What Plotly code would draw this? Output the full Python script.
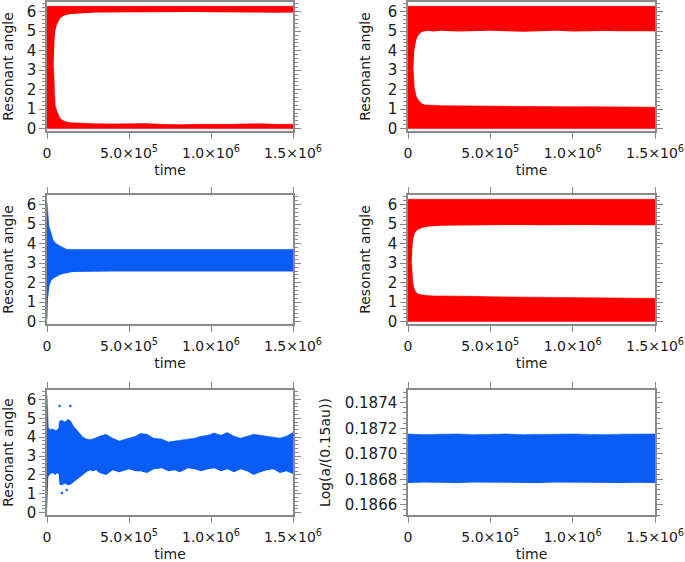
import plotly.graph_objects as go
from plotly.subplots import make_subplots

# ---------------- data ----------------
ANGLE_MIN = 0.0
ANGLE_MAX = 6.28

# Panel 1 (red): two bands, gap between gap_low1 and gap_high1
t1 = [0, 4.0e4, 4.6e4, 5.0e4, 6.0e4, 7.0e4, 8.0e4, 1.0e5, 1.2e5, 1.5e5, 2.0e5, 2.5e5, 3.0e5,
      4.0e5, 5.0e5, 6.0e5, 7.0e5, 8.0e5, 9.0e5, 1.0e6, 1.1e6, 1.2e6, 1.3e6, 1.4e6, 1.5e6]
gap_low1 = [3.2, 3.2, 1.8, 1.2, 0.9, 0.65, 0.52, 0.40, 0.34, 0.30, 0.28, 0.26, 0.25,
            0.24, 0.25, 0.26, 0.22, 0.20, 0.22, 0.21, 0.22, 0.24, 0.25, 0.22, 0.22]
gap_high1 = [3.2, 3.2, 4.6, 5.0, 5.33, 5.5, 5.67, 5.78, 5.84, 5.88, 5.92, 5.94, 5.96,
             5.97, 5.98, 5.99, 5.98, 6.0, 5.99, 5.97, 5.96, 5.95, 5.96, 5.95, 5.96]

# Panel 2 (red)
t2 = [0, 3.2e4, 3.8e4, 4.5e4, 5.0e4, 6.0e4, 7.0e4, 8.0e4, 1.0e5, 1.2e5, 1.5e5, 2.0e5, 3.0e5,
      4.0e5, 5.0e5, 6.0e5, 7.0e5, 8.0e5, 9.0e5, 1.0e6, 1.1e6, 1.2e6, 1.3e6, 1.4e6, 1.5e6]
gap_low2 = [3.0, 3.0, 2.1, 1.8, 1.65, 1.5, 1.38, 1.3, 1.22, 1.2, 1.2, 1.18, 1.17,
            1.18, 1.16, 1.15, 1.14, 1.12, 1.13, 1.12, 1.13, 1.12, 1.10, 1.10, 1.10]
gap_high2 = [3.0, 3.0, 4.0, 4.4, 4.55, 4.75, 4.88, 4.95, 5.0, 5.02, 4.98, 5.02, 4.99,
             5.0, 5.03, 5.0, 4.97, 5.0, 5.02, 4.98, 5.0, 5.01, 5.0, 4.99, 5.0]

# Panel 3 (blue): single band
t3 = [0, 3e3, 6e3, 1.2e4, 1.6e4, 2.0e4, 2.6e4, 3.7e4, 4.7e4, 5.7e4, 7.7e4, 9.8e4, 1.18e5,
      1.38e5, 1.6e5, 2.0e5, 3.0e5, 4.0e5, 5.0e5, 6.0e5, 7.0e5, 8.0e5, 9.0e5, 1.0e6,
      1.1e6, 1.2e6, 1.3e6, 1.4e6, 1.5e6]
low3 = [0.0, 0.3, 1.2, 1.78, 1.9, 1.95, 2.1, 2.2, 2.25, 2.3, 2.4, 2.45, 2.5,
        2.52, 2.55, 2.56, 2.58, 2.57, 2.58, 2.57, 2.58, 2.58, 2.57, 2.58,
        2.57, 2.58, 2.58, 2.57, 2.58]
high3 = [6.1, 5.6, 5.5, 4.9, 4.8, 4.6, 4.44, 4.2, 4.08, 4.0, 3.9, 3.8, 3.72,
         3.7, 3.7, 3.7, 3.7, 3.69, 3.7, 3.7, 3.69, 3.7, 3.68, 3.7,
         3.7, 3.69, 3.7, 3.7, 3.7]

# Panel 4 (red)
t4 = [0, 2.2e4, 2.8e4, 3.5e4, 4.5e4, 6.0e4, 8.0e4, 1.0e5, 1.3e5, 1.6e5, 2.0e5, 3.0e5,
      4.0e5, 5.0e5, 6.0e5, 7.0e5, 8.0e5, 9.0e5, 1.0e6, 1.1e6, 1.2e6, 1.3e6, 1.4e6, 1.5e6]
gap_low4 = [3.0, 3.0, 2.1, 1.75, 1.55, 1.42, 1.38, 1.35, 1.33, 1.32, 1.32, 1.30,
            1.30, 1.28, 1.27, 1.25, 1.25, 1.24, 1.22, 1.20, 1.20, 1.20, 1.20, 1.20]
gap_high4 = [3.0, 3.0, 4.0, 4.4, 4.6, 4.72, 4.8, 4.85, 4.88, 4.9, 4.92, 4.94,
             4.95, 4.95, 4.96, 4.96, 4.95, 4.96, 4.95, 4.96, 4.95, 4.96, 4.95, 4.95]

# Panel 5 (blue): single wavy band
t5 = [0, 3e3, 8e3, 2.0e4, 3.5e4, 5.0e4, 6.5e4, 7.2e4, 7.6e4, 9.0e4, 1.1e5, 1.28e5, 1.45e5,
      1.6e5, 1.8e5, 2.0e5, 2.2e5, 2.4e5, 2.6e5, 2.8e5, 3.0e5, 3.2e5, 3.6e5, 4.0e5, 4.4e5,
      4.8e5, 5.0e5, 5.4e5, 5.7e5, 6.1e5, 6.5e5, 7.0e5, 7.4e5, 7.8e5, 8.1e5, 8.6e5, 9.0e5,
      9.4e5, 9.8e5, 1.02e6, 1.06e6, 1.10e6, 1.14e6, 1.18e6, 1.22e6, 1.26e6, 1.30e6,
      1.34e6, 1.38e6, 1.42e6, 1.46e6, 1.5e6]
low5 = [0.0, 1.0, 1.9, 2.05, 2.1, 2.0, 2.1, 2.0, 1.5, 1.45, 1.55, 1.45, 1.5,
        1.6, 1.75, 1.9, 2.05, 2.15, 2.25, 2.2, 2.25, 2.1, 2.0, 2.25, 2.15,
        2.25, 2.3, 2.2, 2.2, 2.1, 2.3, 2.35, 2.2, 2.25, 2.15, 2.35, 2.3,
        2.2, 2.3, 2.35, 2.2, 2.3, 2.15, 2.3, 2.2, 2.0, 2.15,
        2.25, 2.3, 2.1, 2.2, 2.05]
high5 = [6.2, 5.2, 4.5, 4.4, 4.45, 4.35, 4.4, 4.5, 4.85, 4.9, 4.8, 4.95, 4.85,
         4.6, 4.4, 4.2, 4.0, 3.9, 3.88, 3.9, 3.98, 4.05, 4.15, 3.95, 3.8,
         3.9, 3.98, 4.05, 4.2, 4.15, 3.95, 3.9, 3.75, 3.8, 3.85, 3.9, 3.95,
         4.05, 4.1, 4.22, 4.1, 4.25, 4.05, 3.95, 4.05, 4.15, 4.1,
         4.05, 3.98, 3.95, 4.05, 4.25]
out_t5 = [7.7e4, 1.42e5, 9.1e4, 1.2e5]
out_v5 = [5.65, 5.65, 1.05, 1.2]

# Panel 6 (blue): Log(a/(0.15au))
t6 = [0, 1.0e5, 2.0e5, 3.0e5, 4.0e5, 5.0e5, 6.0e5, 7.0e5, 8.0e5, 9.0e5, 1.0e6,
      1.1e6, 1.2e6, 1.3e6, 1.4e6, 1.5e6]
low6 = [0.186770, 0.186775, 0.186772, 0.186770, 0.186774, 0.186772, 0.186770, 0.186773,
        0.186771, 0.186774, 0.186772, 0.186770, 0.186773, 0.186771, 0.186772, 0.186770]
high6 = [0.187155, 0.187150, 0.187153, 0.187155, 0.187150, 0.187152, 0.187155, 0.187150,
         0.187153, 0.187151, 0.187155, 0.187152, 0.187150, 0.187154, 0.187152, 0.187155]

x_tickvals = [0, 5e5, 1e6, 1.5e6]
x_ticktext = ["0", "5.0×10<sup>5</sup>", "1.0×10<sup>6</sup>", "1.5×10<sup>6</sup>"]
angle_ticks = [0, 1, 2, 3, 4, 5, 6]
loga_ticks = [0.1866, 0.1868, 0.1870, 0.1872, 0.1874]
loga_ticktext = ["0.1866", "0.1868", "0.1870", "0.1872", "0.1874"]

RED = "#ff0000"
BLUE = "#0a5cf7"

# ---------------- figure ----------------
W, H = 685, 562
fig = make_subplots(rows=3, cols=2)


def band(row, col, t, lo, hi, color):
    fig.add_trace(go.Scatter(x=t, y=lo, mode="lines", line=dict(width=0, color=color),
                             showlegend=False, hoverinfo="skip"), row=row, col=col)
    fig.add_trace(go.Scatter(x=t, y=hi, mode="lines", line=dict(width=0.6, color=color),
                             fill="tonexty", fillcolor=color, showlegend=False,
                             hoverinfo="skip"), row=row, col=col)


def two_bands(row, col, t, gl, gh, color):
    band(row, col, t, [ANGLE_MIN] * len(t), gl, color)
    band(row, col, t, gh, [ANGLE_MAX] * len(t), color)


two_bands(1, 1, t1, gap_low1, gap_high1, RED)
two_bands(1, 2, t2, gap_low2, gap_high2, RED)
band(2, 1, t3, low3, high3, BLUE)
two_bands(2, 2, t4, gap_low4, gap_high4, RED)
band(3, 1, t5, low5, high5, BLUE)
fig.add_trace(go.Scatter(x=out_t5, y=out_v5, mode="markers",
                         marker=dict(size=2.5, color=BLUE), showlegend=False,
                         hoverinfo="skip"), row=3, col=1)
band(3, 2, t6, low6, high6, BLUE)

col_px = [(47, 293), (408, 655)]
row_px = [(2, 131), (195, 324), (390, 515)]

AX = "#8a8a8a"
XTICKFONT = dict(family="DejaVu Sans", size=14, color="#1a1a1a")
YTICKFONT = dict(family="DejaVu Sans", size=15, color="#1a1a1a")
TITLEFONT = dict(family="DejaVu Sans", size=14, color="#1a1a1a")

common = dict(showline=True, linecolor=AX, linewidth=1.5, mirror="allticks",
              ticks="outside", ticklen=6, tickwidth=1.2, tickcolor=AX,
              showgrid=False, zeroline=False, automargin=False)

idx = 0
for r in range(3):
    for c in range(2):
        idx += 1
        xa = "xaxis" if idx == 1 else f"xaxis{idx}"
        ya = "yaxis" if idx == 1 else f"yaxis{idx}"
        x0, x1 = col_px[c]
        y0, y1 = row_px[r]
        fig.layout[xa].update(
            domain=[x0 / W, x1 / W], range=[0, 1.5e6],
            tickmode="array", tickvals=x_tickvals, ticktext=x_ticktext,
            tickfont=XTICKFONT, ticklabeloverflow="allow", ticklabelstandoff=2,
            title=dict(text="time", font=TITLEFONT, standoff=6), **common)
        if idx == 6:
            fig.layout[ya].update(
                domain=[1 - y1 / H, 1 - y0 / H], range=[0.18652, 0.18750],
                tickmode="array", tickvals=loga_ticks, ticktext=loga_ticktext,
                tickfont=YTICKFONT,
                minor=dict(dtick=0.00004, ticklen=3, tickcolor=AX, ticks="outside",
                           showgrid=False),
                title=dict(text="Log(a/(0.15au))", font=TITLEFONT, standoff=11), **common)
        else:
            fig.layout[ya].update(
                domain=[1 - y1 / H, 1 - y0 / H], range=[-0.12, 6.5],
                tickmode="array", tickvals=angle_ticks, tickfont=YTICKFONT,
                minor=dict(dtick=0.2, ticklen=3, tickcolor=AX, ticks="outside",
                           showgrid=False),
                title=dict(text="Resonant angle", font=TITLEFONT, standoff=14), **common)

fig.update_layout(width=W, height=H, margin=dict(l=0, r=0, t=0, b=0),
                  plot_bgcolor="white", paper_bgcolor="white", showlegend=False)

fig.write_html("out.html", config={"displayModeBar": False},
               post_script="document.body.style.margin='0';"
                           "document.body.style.overflow='hidden';")
